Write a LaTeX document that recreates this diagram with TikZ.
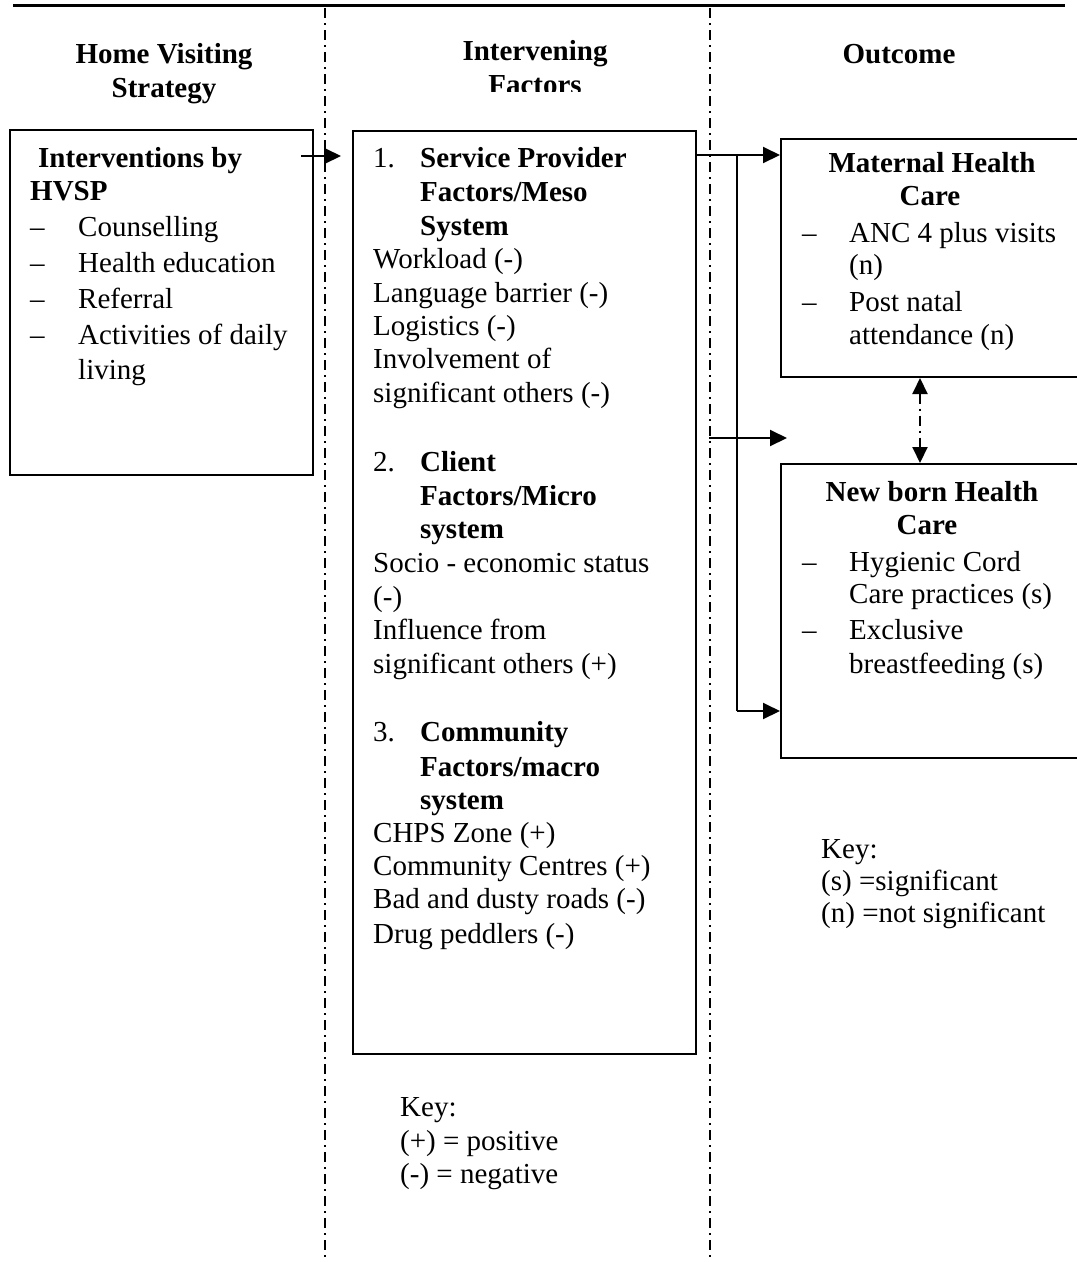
\documentclass[tikz,border=0pt]{standalone}
\usepackage{fontspec}
\setmainfont{Liberation Serif}
\usetikzlibrary{arrows.meta,calc}
\begin{document}
\begin{tikzpicture}[x=1pt,y=-1pt,
  txt/.style={anchor=base west,inner sep=0pt,font=\fontsize{29}{34}\selectfont},
  btxt/.style={txt,font=\fontsize{29}{34}\selectfont\bfseries},
  ctxt/.style={anchor=base,inner sep=0pt,font=\fontsize{29}{34}\selectfont\bfseries},
  boxst/.style={draw,line width=2pt,inner sep=0pt,anchor=north west},
  dd/.style={line width=2pt,dash pattern=on 10pt off 5pt on 2pt off 5pt},
  arr/.style={line width=2pt,-{Triangle[length=17pt,width=16pt]}},
  darr/.style={line width=2pt,dash pattern=on 10pt off 5pt on 2pt off 5pt,{Triangle[length=16pt,width=15pt]}-{Triangle[length=16pt,width=15pt]}}]
\useasboundingbox (0,0) rectangle (1077,1262);
\begin{scope}
\clip (0,0) rectangle (1077,1262);
% top rule
\coordinate (tl) at (13,5);
\coordinate (tr) at (1065,5);
\draw[line width=3pt] (tl) -- (tr);
% column separators
\coordinate (s1t) at (325,8);
\coordinate (s1b) at (325,1262);
\coordinate (s2t) at (710,8);
\coordinate (s2b) at (710,1262);
\draw[dd] (s1t) -- (s1b);
\draw[dd] (s2t) -- (s2b);
% boxes
\node[boxst,minimum width=303pt,minimum height=345pt] (b1) at (9,129) {};
\node[boxst,minimum width=343pt,minimum height=923pt] (b2) at (352,130) {};
\node[boxst,minimum width=320pt,minimum height=238pt] (mat) at (780,138) {};
\node[boxst,minimum width=320pt,minimum height=294pt] (nb) at (780,463) {};
% headers
\node[ctxt] (h1a) at (164,63) {Home Visiting};
\node[ctxt] (h1b) at (164,97) {Strategy};
\node[ctxt] (h2a) at (535,60) {Intervening};
\begin{scope}
\clip (400,60) rectangle (680,91);
\node[ctxt] (h2b) at (535,94) {Factors};
\end{scope}
\node[ctxt] (h3) at (899,63) {Outcome};
% connectors
\coordinate (a1s) at (301,156);
\draw[arr,shorten >=11pt] (a1s) -- (a1s -| b2.west);
\coordinate (a2s) at (695,155);
\draw[arr] (a2s) -- (a2s -| mat.west);
\coordinate (vt) at (737,155);
\coordinate (vb) at (737,711);
\draw[line width=2pt] (vt) -- (vb);
\draw[arr] (vb) -- (vb -| nb.west);
\coordinate (a3s) at (709,438);
\coordinate (a3e) at (787,438);
\draw[arr] (a3s) -- (a3e);
\draw[darr] ([xshift=140pt]mat.south west) -- ([xshift=140pt]nb.north west);
% left box text
\node[btxt] (l1) at (38,167) {Interventions by};
\node[btxt] (l2) at (30,200) {HVSP};
\node[txt] (ld1) at (30,236) {–};
\node[txt] (l3) at (78,236) {Counselling};
\node[txt] (ld2) at (30,272) {–};
\node[txt] (l4) at (78,272) {Health education};
\node[txt] (ld3) at (30,308) {–};
\node[txt] (l5) at (78,308) {Referral};
\node[txt] (ld4) at (30,344) {–};
\node[txt] (l6) at (78,344) {Activities of daily};
\node[txt] (l7) at (78,379) {living};
% middle box text
\node[txt] (m1n) at (373,167) {1.};
\node[btxt] (m1a) at (420,167) {Service Provider};
\node[btxt] (m1b) at (420,201) {Factors/Meso};
\node[btxt] (m1c) at (420,235) {System};
\node[txt] (m1d) at (373,268) {Workload (-)};
\node[txt] (m1e) at (373,302) {Language barrier (-)};
\node[txt] (m1f) at (373,335) {Logistics (-)};
\node[txt] (m1g) at (373,368) {Involvement of};
\node[txt] (m1h) at (373,402) {significant others (-)};
\node[txt] (m2n) at (373,471) {2.};
\node[btxt] (m2a) at (420,471) {Client};
\node[btxt] (m2b) at (420,505) {Factors/Micro};
\node[btxt] (m2c) at (420,538) {system};
\node[txt] (m2d) at (373,572) {Socio - economic status};
\node[txt] (m2e) at (373,606) {(-)};
\node[txt] (m2f) at (373,639) {Influence from};
\node[txt] (m2g) at (373,673) {significant others (+)};
\node[txt] (m3n) at (373,741) {3.};
\node[btxt] (m3a) at (420,741) {Community};
\node[btxt] (m3b) at (420,776) {Factors/macro};
\node[btxt] (m3c) at (420,809) {system};
\node[txt] (m3d) at (373,842) {CHPS Zone (+)};
\node[txt] (m3e) at (373,875) {Community Centres (+)};
\node[txt] (m3f) at (373,908) {Bad and dusty roads (-)};
\node[txt] (m3g) at (373,943) {Drug peddlers (-)};
% middle key
\node[txt] (k1a) at (400,1116) {Key:};
\node[txt] (k1b) at (400,1150) {(+) = positive};
\node[txt] (k1c) at (400,1183) {(-) = negative};
% maternal box text
\node[ctxt] (r1a) at (932,172) {Maternal Health};
\node[ctxt] (r1b) at (930,205) {Care};
\node[txt] (rd1) at (802,242) {–};
\node[txt] (r1c) at (849,242) {ANC 4 plus visits};
\node[txt] (r1d) at (849,274) {(n)};
\node[txt] (rd2) at (802,311) {–};
\node[txt] (r1e) at (849,311) {Post natal};
\node[txt] (r1f) at (849,344) {attendance (n)};
% newborn box text
\node[ctxt] (r2a) at (932,501) {New born Health};
\node[ctxt] (r2b) at (927,534) {Care};
\node[txt] (rd3) at (802,571) {–};
\node[txt] (r2c) at (849,571) {Hygienic Cord};
\node[txt] (r2d) at (849,603) {Care practices (s)};
\node[txt] (rd4) at (802,639) {–};
\node[txt] (r2e) at (849,639) {Exclusive};
\node[txt] (r2f) at (849,673) {breastfeeding (s)};
% right key
\node[txt] (k2a) at (821,858) {Key:};
\node[txt] (k2b) at (821,890) {(s) =significant};
\node[txt] (k2c) at (821,922) {(n) =not significant};
\end{scope}
\end{tikzpicture}
\end{document}
